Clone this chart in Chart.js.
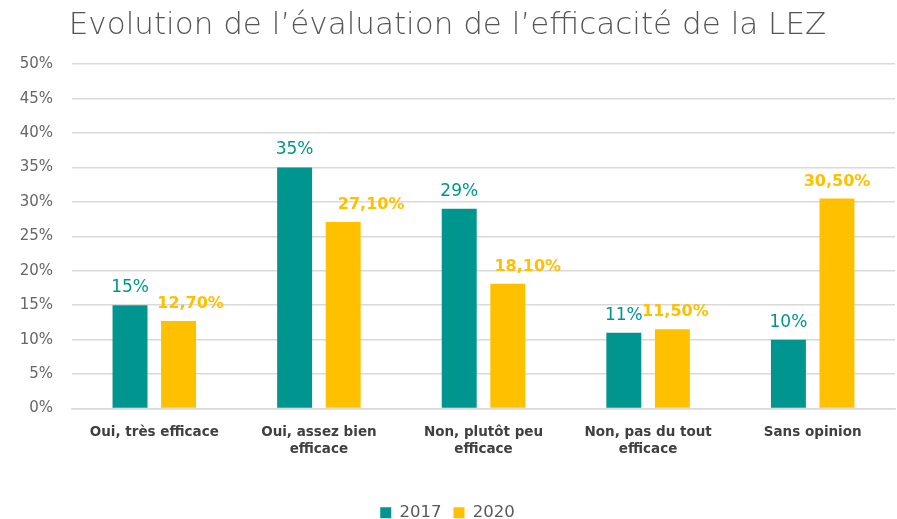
<!DOCTYPE html>
<html>
<head>
<meta charset="utf-8">
<script src="https://cdn.jsdelivr.net/npm/chart.js@4/dist/chart.umd.min.js"></script>
<style>
  html, body { margin: 0; padding: 0; background: #fff; }
  #wrap { width: 897px; height: 519px; }
</style>
</head>
<body>
<div id="wrap"><canvas id="chart" width="897" height="519"></canvas></div>
<script>
const categories = [
  'Oui, très efficace',
  ['Oui, assez bien', 'efficace'],
  ['Non, plutôt peu', 'efficace'],
  ['Non, pas du tout', 'efficace'],
  'Sans opinion'
];
const values2017 = [15, 35, 29, 11, 10];
const values2020 = [12.7, 27.1, 18.1, 11.5, 30.5];
const yTicks = [0, 5, 10, 15, 20, 25, 30, 35, 40, 45, 50];

const TEAL = '#00968F';
const GOLD = '#FFC000';
const FONT = '"DejaVu Sans", sans-serif';

// value labels drawn above each bar (no datalabels plugin here)
const barLabels = {
  id: 'barLabels',
  afterDatasetsDraw(chart) {
    const ctx = chart.ctx;
    ctx.save();
    ctx.textAlign = 'center';
    ctx.textBaseline = 'bottom';
    chart.data.datasets.forEach((ds, i) => {
      const meta = chart.getDatasetMeta(i);
      meta.data.forEach((bar, j) => {
        const v = ds.data[j];
        const txt = i === 0 ? v + '%' : v.toFixed(2).replace('.', ',') + '%';
        const dx = (ds.labelShift && ds.labelShift[j]) || 0;
        ctx.fillStyle = ds.backgroundColor;
        ctx.font = i === 0 ? '400 17px ' + FONT : '700 16px ' + FONT;
        ctx.fillText(txt, bar.x + dx, bar.y - 9);
      });
    });
    ctx.restore();
  }
};

new Chart(document.getElementById('chart'), {
  type: 'bar',
  data: {
    labels: categories,
    datasets: [
      { label: '2017', data: values2017, backgroundColor: TEAL,
        categoryPercentage: 0.59, barPercentage: 0.72 },
      { label: '2020', data: values2020, backgroundColor: GOLD,
        categoryPercentage: 0.59, barPercentage: 0.72,
        labelShift: [12, 28, 20, 3, 0] }
    ]
  },
  options: {
    responsive: false,
    animation: false,
    layout: { padding: { left: 0, right: 2, top: 4, bottom: -12 } },
    plugins: {
      title: {
        display: true,
        text: 'Evolution de l\u2019évaluation de l\u2019efficacité de la LEZ',
        align: 'center',
        color: '#555555',
        font: { family: FONT, size: 31, weight: '200' },
        padding: { top: 3, bottom: 20 }
      },
      legend: {
        position: 'bottom',
        labels: {
          color: '#595959',
          font: { family: FONT, size: 16.5, weight: '400' },
          boxWidth: 11, boxHeight: 11,
          padding: 12
        }
      },
      tooltip: { enabled: false }
    },
    scales: {
      x: {
        grid: { display: false },
        border: { color: '#d9d9d9', width: 1.5 },
        ticks: {
          color: '#404040',
          font: { family: FONT, size: 13.5, weight: '700', lineHeight: 1.25 },
          maxRotation: 0, padding: 8
        },
        afterFit(s) { s.height = 84; }
      },
      y: {
        min: 0, max: 50,
        afterBuildTicks(s) { s.ticks = yTicks.map(v => ({ value: v })); },
        afterFit(s) { s.width = 72; },
        grid: { color: '#d9d9d9', lineWidth: 1.5, drawTicks: false },
        border: { display: false },
        ticks: {
          color: '#666666',
          font: { family: FONT, size: 15, weight: '400' },
          padding: 19,
          callback: v => v + '%'
        }
      }
    }
  },
  plugins: [barLabels]
});
</script>
</body>
</html>
